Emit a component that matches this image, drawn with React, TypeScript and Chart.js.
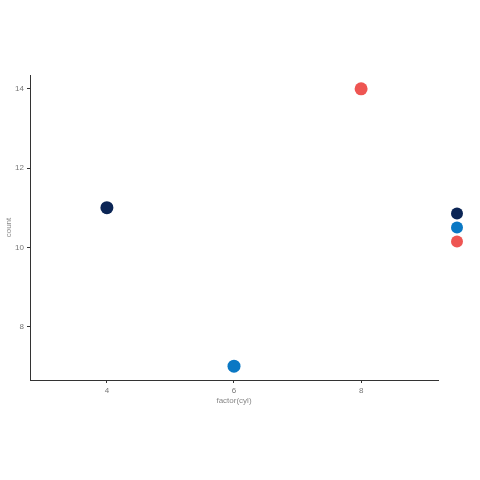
import React, { useEffect, useRef } from "react";
import { Chart, registerables } from "chart.js";

Chart.register(...registerables);

const categories = ["4", "6", "8"];
const xValues = [4, 6, 8];
const counts = [11, 7, 14];
const colors = ["#0B2555", "#0A78C4", "#EE5552"];
const xTicks = [4, 6, 8];
const yTicks = [8, 10, 12, 14];

const legendDots = {
  id: "legendDots",
  afterDraw(chart: any) {
    const { ctx, chartArea } = chart;
    const cx = chartArea.right + 19;
    const cy = (chartArea.top + chartArea.bottom) / 2;
    ctx.save();
    colors.forEach((c, i) => {
      ctx.beginPath();
      ctx.arc(cx, cy + (i - 1) * 14, 6, 0, Math.PI * 2);
      ctx.fillStyle = c;
      ctx.fill();
    });
    ctx.restore();
  },
};

export default function App() {
  const ref = useRef<HTMLCanvasElement>(null);
  useEffect(() => {
    if (!ref.current) return;
    const font = { family: "'Liberation Sans', Arial, sans-serif", size: 8 };
    const chart = new Chart(ref.current, {
      type: "scatter",
      data: {
        datasets: categories.map((cat, i) => ({
          label: cat,
          data: [{ x: xValues[i], y: counts[i] }],
          backgroundColor: colors[i],
          borderColor: colors[i],
          pointRadius: 6.5,
          borderWidth: 0,
        })),
      },
      options: {
        responsive: false,
        animation: false,
        layout: { padding: { top: 75, right: 42, left: 2, bottom: 74 } },
        plugins: { legend: { display: false }, tooltip: { enabled: false } },
        scales: {
          x: {
            type: "linear",
            min: 2.79,
            max: 9.21,
            afterBuildTicks: (s: any) => {
              s.ticks = xTicks.map((v) => ({ value: v }));
            },
            afterFit: (s: any) => {
              s.height = 26;
            },
            grid: { drawOnChartArea: false, drawTicks: true, tickLength: 3, tickColor: "#333" },
            border: { display: true, color: "#333", width: 1 },
            ticks: { color: "#777", font, padding: 3 },
            title: { display: true, text: "factor(cyl)", color: "#888", font, padding: { top: 2, bottom: 0 } },
          },
          y: {
            min: 6.65,
            max: 14.35,
            afterBuildTicks: (s: any) => {
              s.ticks = yTicks.map((v) => ({ value: v }));
            },
            afterFit: (s: any) => {
              s.width = 28;
            },
            grid: { drawOnChartArea: false, drawTicks: true, tickLength: 3, tickColor: "#333" },
            border: { display: true, color: "#333", width: 1 },
            ticks: { color: "#777", font, padding: 3 },
            title: { display: true, text: "count", color: "#888", font, padding: { top: 2, bottom: 2 } },
          },
        },
      },
      plugins: [legendDots],
    });
    return () => chart.destroy();
  }, []);
  return (
    <div style={{ position: "absolute", left: 0, top: 0, width: 480, height: 480, background: "#fff" }}>
      <canvas ref={ref} width={480} height={480} style={{ width: 480, height: 480 }} />
    </div>
  );
}
